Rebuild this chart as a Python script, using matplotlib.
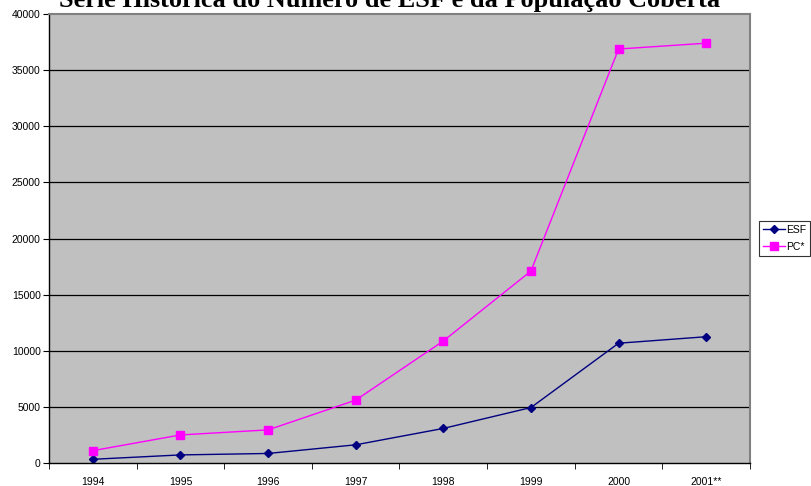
import matplotlib
matplotlib.use("Agg")
import matplotlib.pyplot as plt
import numpy as np

years = ["1994", "1995", "1996", "1997", "1998", "1999", "2000", "2001**"]
esf = [330, 720, 850, 1620, 3080, 4940, 10670, 11250]
pc = [1100, 2500, 2950, 5600, 10870, 17100, 36880, 37400]
yticks = [0, 5000, 10000, 15000, 20000, 25000, 30000, 35000, 40000]

W, H = 812, 486
fig = plt.figure(figsize=(W / 100, H / 100), dpi=100)
L, R, T, B = 49, 750, 14, 463
ax = fig.add_axes([L / W, 1 - B / H, (R - L) / W, (B - T) / H])
ax.set_facecolor("#C0C0C0")

x = np.arange(len(years))
ax.plot(x, esf, color="#000080", marker="D", markersize=4, linewidth=1, label="ESF")
ax.plot(x, pc, color="#FF00FF", marker="s", markersize=5.5, linewidth=1, label="PC*")

ax.set_xlim(-0.5, len(years) - 0.5)
ax.set_ylim(0, 40000)
ax.set_yticks(yticks)
ax.set_yticklabels([str(v) for v in yticks], fontsize=7.5, family="Liberation Sans")
ax.set_xticks(x)
ax.set_xticklabels(years, fontsize=7.5, family="Liberation Sans")
ax.tick_params(axis="x", length=0, pad=10)
ax.set_xticks(np.arange(-0.5, len(years)), minor=True)
ax.tick_params(axis="x", which="minor", length=4, direction="out", color="black")
ax.tick_params(axis="y", length=4, direction="out", pad=2)
for v in yticks[1:-1]:
    ax.axhline(v, color="black", linewidth=0.9, zorder=1)
for s in ["left", "bottom"]:
    ax.spines[s].set_color("black")
    ax.spines[s].set_linewidth(1)
for s in ["top", "right"]:
    ax.spines[s].set_color("#808080")
    ax.spines[s].set_linewidth(1.5)

leg = fig.legend(loc="upper left", bbox_to_anchor=(759 / W, 1 - 221 / H),
                 prop={"family": "Liberation Sans", "size": 7.5},
                 frameon=True, fancybox=False, edgecolor="black",
                 handlelength=2.1, handletextpad=0.2, borderpad=0.35,
                 labelspacing=0.7, borderaxespad=0)
leg.get_frame().set_linewidth(0.8)

fig.text(390 / W, 1 - 7 / H, "Série Histórica do Número de ESF e da População Coberta",
         ha="center", va="baseline", fontsize=18.9, fontweight="bold",
         family="Liberation Serif")

fig.savefig("out.png", dpi=100, facecolor="white")
